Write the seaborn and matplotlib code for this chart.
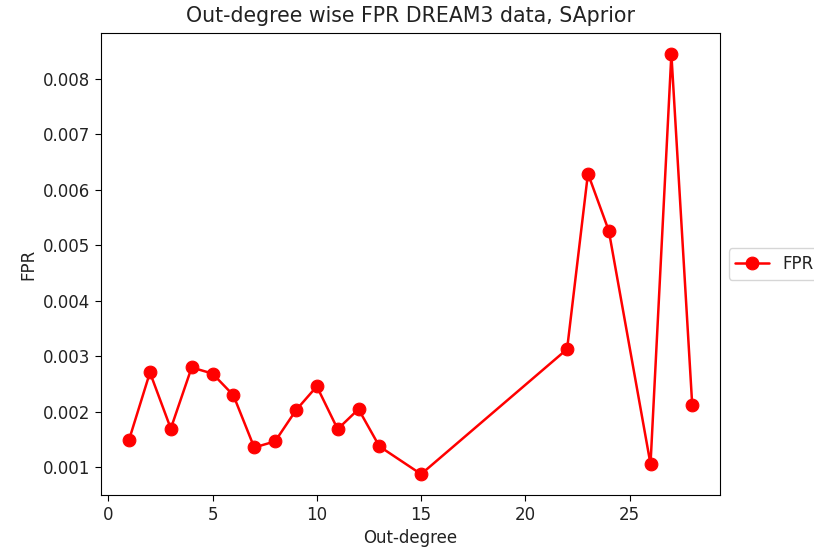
import matplotlib
matplotlib.use("Agg")
import matplotlib.pyplot as plt
import seaborn as sns
import pandas as pd

# Out-degree of each node group and its false positive rate
out_degree = [1, 2, 3, 4, 5, 6, 7, 8, 9, 10, 11, 12, 13, 15, 22, 23, 24, 26, 27, 28]
fpr = [0.00150, 0.00271, 0.00170, 0.00280, 0.00269, 0.00230, 0.00136, 0.00147,
       0.00203, 0.00246, 0.00169, 0.00205, 0.00138, 0.00088, 0.00313, 0.00629,
       0.00526, 0.00106, 0.00844, 0.00212]

df = pd.DataFrame({"Out-degree": out_degree, "FPR": fpr})

sns.set_style("ticks")
plt.rcParams["font.family"] = ["DejaVu Sans"]
plt.rcParams["font.size"] = 12
plt.rcParams["text.color"] = "#222222"
plt.rcParams["axes.labelcolor"] = "#222222"

fig = plt.figure(figsize=(8.14, 5.52), dpi=100)
ax = fig.add_axes([0.124, 0.103, 0.761, 0.837])

sns.lineplot(data=df, x="Out-degree", y="FPR", ax=ax, color="red",
             marker="o", markersize=9.2, markeredgecolor="red",
             linewidth=1.8, label="FPR")

ax.set_title("Out-degree wise FPR DREAM3 data, SAprior", fontsize=14.8, pad=8)
ax.set_xlabel("Out-degree", fontsize=12)
ax.set_ylabel("FPR", fontsize=12)
ax.margins(x=0.05, y=0.05)
for s in ax.spines.values():
    s.set_visible(True)
    s.set_color("black")
ax.tick_params(direction="out", length=4, colors="black", labelsize=12)
for lbl in ax.get_xticklabels() + ax.get_yticklabels():
    lbl.set_color("#222222")
ax.legend(loc="center left", bbox_to_anchor=(1.0, 0.5), fontsize=12)

fig.savefig("out.png", dpi=100)
